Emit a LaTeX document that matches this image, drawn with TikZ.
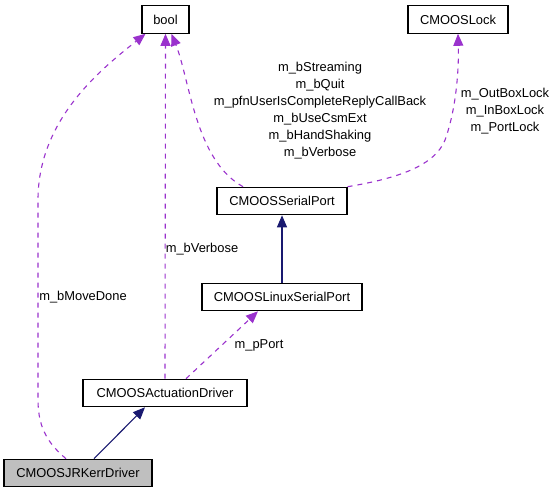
\documentclass[tikz,border=0pt]{standalone}
\usepackage{fontspec}
\setmainfont{Liberation Sans}
\usetikzlibrary{arrows.meta,calc}
\definecolor{edgepurple}{HTML}{9A32CD}
\definecolor{edgenavy}{HTML}{191970}
\definecolor{boxgray}{HTML}{BFBFBF}
\tikzset{
  cls/.style={draw=black, line width=1.1pt, rectangle, inner sep=0pt, minimum height=27.5pt, font=\fontsize{12.9}{17}\selectfont},
  usedep/.style={draw=edgepurple, line width=1.1pt, dash pattern=on 5pt off 5pt, -{Triangle[length=12pt,width=10pt,fill=edgepurple]}},
  inherit/.style={draw=edgenavy, line width=1.1pt, -{Triangle[length=12pt,width=10pt,fill=edgenavy]}},
  lbl/.style={font=\fontsize{12.9}{17}\selectfont, align=center, inner sep=0pt}
}
\begin{document}
\begin{tikzpicture}[x=1pt,y=-1pt]
\useasboundingbox (0,0) rectangle (556,493);
\node[cls, minimum width=47pt] (bool) at (165.5,19.5) {bool};
\node[cls, minimum width=100pt] (lock) at (458,19.5) {CMOOSLock};
\node[cls, minimum width=130pt] (sp) at (282,201) {CMOOSSerialPort};
\node[cls, minimum width=160pt] (lsp) at (282,297) {CMOOSLinuxSerialPort};
\node[cls, minimum width=164pt] (act) at (165,393) {CMOOSActuationDriver};
\node[cls, minimum width=148pt, fill=boxgray] (jr) at (78,473) {CMOOSJRKerrDriver};

% inheritance
\draw[inherit] ($(jr.north)+(16,0)$) -- ($(act.south)+(-20,0)$);
\draw[inherit] (lsp.north) -- (sp.south);

% usage
\draw[usedep] ($(act.north)+(21,0)$) -- ($(lsp.south)+(-24,0)$);
\draw[usedep] (act.north) -- (bool.south);
\draw[usedep] ($(jr.north)+(-12,0)$) .. controls (50,445) and (38,430) .. (38,400)
   -- (38,200) .. controls (38,120) and (100,70) .. ($(bool.south)+(-20,0)$);
\draw[usedep] ($(sp.north)+(-39,0)$) .. controls (195,160) and (190,80) .. ($(bool.south)+(6,0)$);
\draw[usedep] (sp.north east) .. controls (400,178) and (435,165) .. (445,140)
   .. controls (456,110) and (459,70) .. (lock.south);

% labels
\node[lbl] (lmove) at (83,297) {m\_bMoveDone};
\node[lbl] (lverb) at (202,249) {m\_bVerbose};
\node[lbl] (lport) at (259,345) {m\_pPort};
\node[lbl, anchor=north] (lsp1) at (320,62) {m\_bStreaming\\m\_bQuit\\m\_pfnUserIsCompleteReplyCallBack\\m\_bUseCsmExt\\m\_bHandShaking\\m\_bVerbose};
\node[lbl, anchor=north] (llock) at (505,88) {m\_OutBoxLock\\m\_InBoxLock\\m\_PortLock};
\end{tikzpicture}
\end{document}
